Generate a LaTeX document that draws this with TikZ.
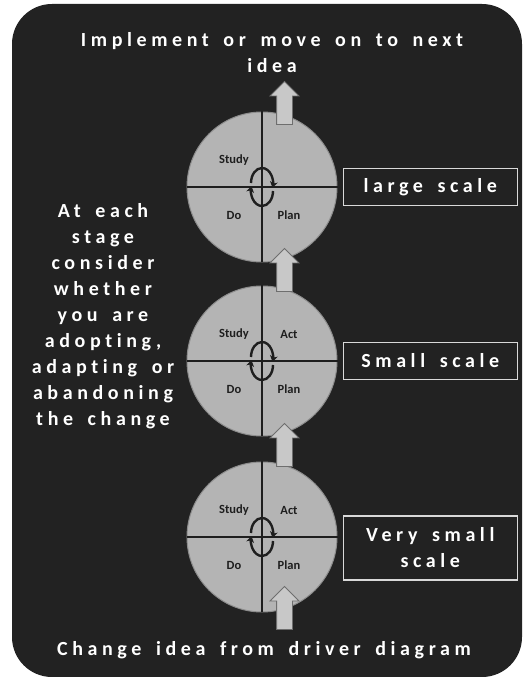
\documentclass[tikz,border=0pt]{standalone}
\usepackage{fontspec}
\setmainfont{Carlito}[Ligatures=NoCommon]
\newfontfamily\spaced[LetterSpace=23, WordSpace=1.6, Ligatures=NoCommon]{Carlito}
\usepackage{tikz}
\usetikzlibrary{arrows.meta,positioning,shapes.arrows,calc}
\definecolor{panel}{RGB}{34,34,34}
\definecolor{disc}{RGB}{180,180,180}
\definecolor{discedge}{RGB}{140,140,140}
\definecolor{arrowfill}{RGB}{200,200,200}
\definecolor{arrowedge}{RGB}{110,110,110}
\definecolor{ink}{RGB}{30,30,30}

\begin{document}
\begin{tikzpicture}[x=1pt, y=1pt,
  every node/.style={font=\spaced\bfseries\fontsize{20}{26}\selectfont, text=white},
  cyclecircle/.style={circle, draw=discedge, fill=disc, line width=1pt,
    minimum size=150pt, inner sep=0pt},
  divider/.style={draw=ink, line width=2.4pt},
  quad/.style={font=\bfseries\fontsize{12.5}{14}\selectfont, text=ink},
  turn/.style={draw=ink, line width=2.4pt, -{Stealth[length=6pt,width=8pt]}},
  scalebox/.style={draw=white!85!black, line width=1.6pt, fill=panel,
    minimum width=174pt, minimum height=37pt, align=center, inner sep=2pt},
  blockarrow/.style={single arrow, draw=arrowedge, fill=arrowfill, line width=0.8pt,
    minimum height=43pt, single arrow head extend=6.5pt,
    single arrow head indent=0pt, inner xsep=0pt, inner ysep=7.5pt, rotate=90},
]
\useasboundingbox (0,0) rectangle (529,678);
\fill[panel, rounded corners=40pt] (12,1) rectangle (522,674);

% the three PDSA cycles, largest scale on top
\node[cyclecircle] (large) at (262,491) {};
\node[cyclecircle, below=23pt of large] (small) {};
\node[cyclecircle, below=25pt of small] (tiny) {};

\draw[divider] (large.north) -- (large.south) (large.west) -- (large.east);
\draw[divider] (small.north) -- (small.south) (small.west) -- (small.east);
\draw[divider] (tiny.north) -- (tiny.south) (tiny.west) -- (tiny.east);

\node[quad] at ([shift={(-28,27)}]large.center) {Study};
\node[quad] at ([shift={(-28,-28)}]large.center) {Do};
\node[quad] at ([shift={(27,-28)}]large.center) {Plan};

\node[quad] at ([shift={(-28,27)}]small.center) {Study};
\node[quad] at ([shift={(27,27)}]small.center) {Act};
\node[quad] at ([shift={(-28,-28)}]small.center) {Do};
\node[quad] at ([shift={(27,-28)}]small.center) {Plan};

\node[quad] at ([shift={(-28,27)}]tiny.center) {Study};
\node[quad] at ([shift={(27,27)}]tiny.center) {Act};
\node[quad] at ([shift={(-28,-28)}]tiny.center) {Do};
\node[quad] at ([shift={(27,-28)}]tiny.center) {Plan};

% turning arrows in the middle of each cycle
\draw[turn] ([shift={(-11,4)}]large.center) arc[start angle=180, end angle=-18, x radius=11, y radius=15];
\draw[turn] ([shift={(11,-4)}]large.center) arc[start angle=0, end angle=-198, x radius=11, y radius=15];
\draw[turn] ([shift={(-11,4)}]small.center) arc[start angle=180, end angle=-18, x radius=11, y radius=15];
\draw[turn] ([shift={(11,-4)}]small.center) arc[start angle=0, end angle=-198, x radius=11, y radius=15];
\draw[turn] ([shift={(-11,4)}]tiny.center) arc[start angle=180, end angle=-18, x radius=11, y radius=15];
\draw[turn] ([shift={(11,-4)}]tiny.center) arc[start angle=0, end angle=-198, x radius=11, y radius=15];

% upward block arrows
\node[blockarrow] (upnext) at ([xshift=22.5pt, yshift=80pt]large.center) {};
\node[blockarrow] (uplarge) at ([xshift=22.5pt]$(large.south)!0.5!(small.north)$) {};
\node[blockarrow] (upsmall) at ([xshift=22.5pt]$(small.south)!0.5!(tiny.north)$) {};
\node[blockarrow] (upidea) at ([xshift=22.5pt, yshift=-75pt]tiny.center) {};

% scale labels
\node[scalebox, right=5pt of large] (largebox) {large scale};
\node[scalebox, right=5pt of small] (smallbox) {Small scale};
\node[scalebox, minimum height=64pt, right=5pt of tiny, yshift=-11pt] (tinybox) {Very small\\scale};

\node[align=center, anchor=north, inner sep=0pt] (implement) at (272,646)
  {Implement or move on to next\\idea};
\node[align=center, inner sep=0pt] (stage) at (103,362)
  {At each\\stage\\consider\\whether\\you are\\adopting,\\adapting or\\abandoning\\the change};
\node[anchor=base, inner sep=0pt] (change) at (264,22) {Change idea from driver diagram};
\end{tikzpicture}
\end{document}
